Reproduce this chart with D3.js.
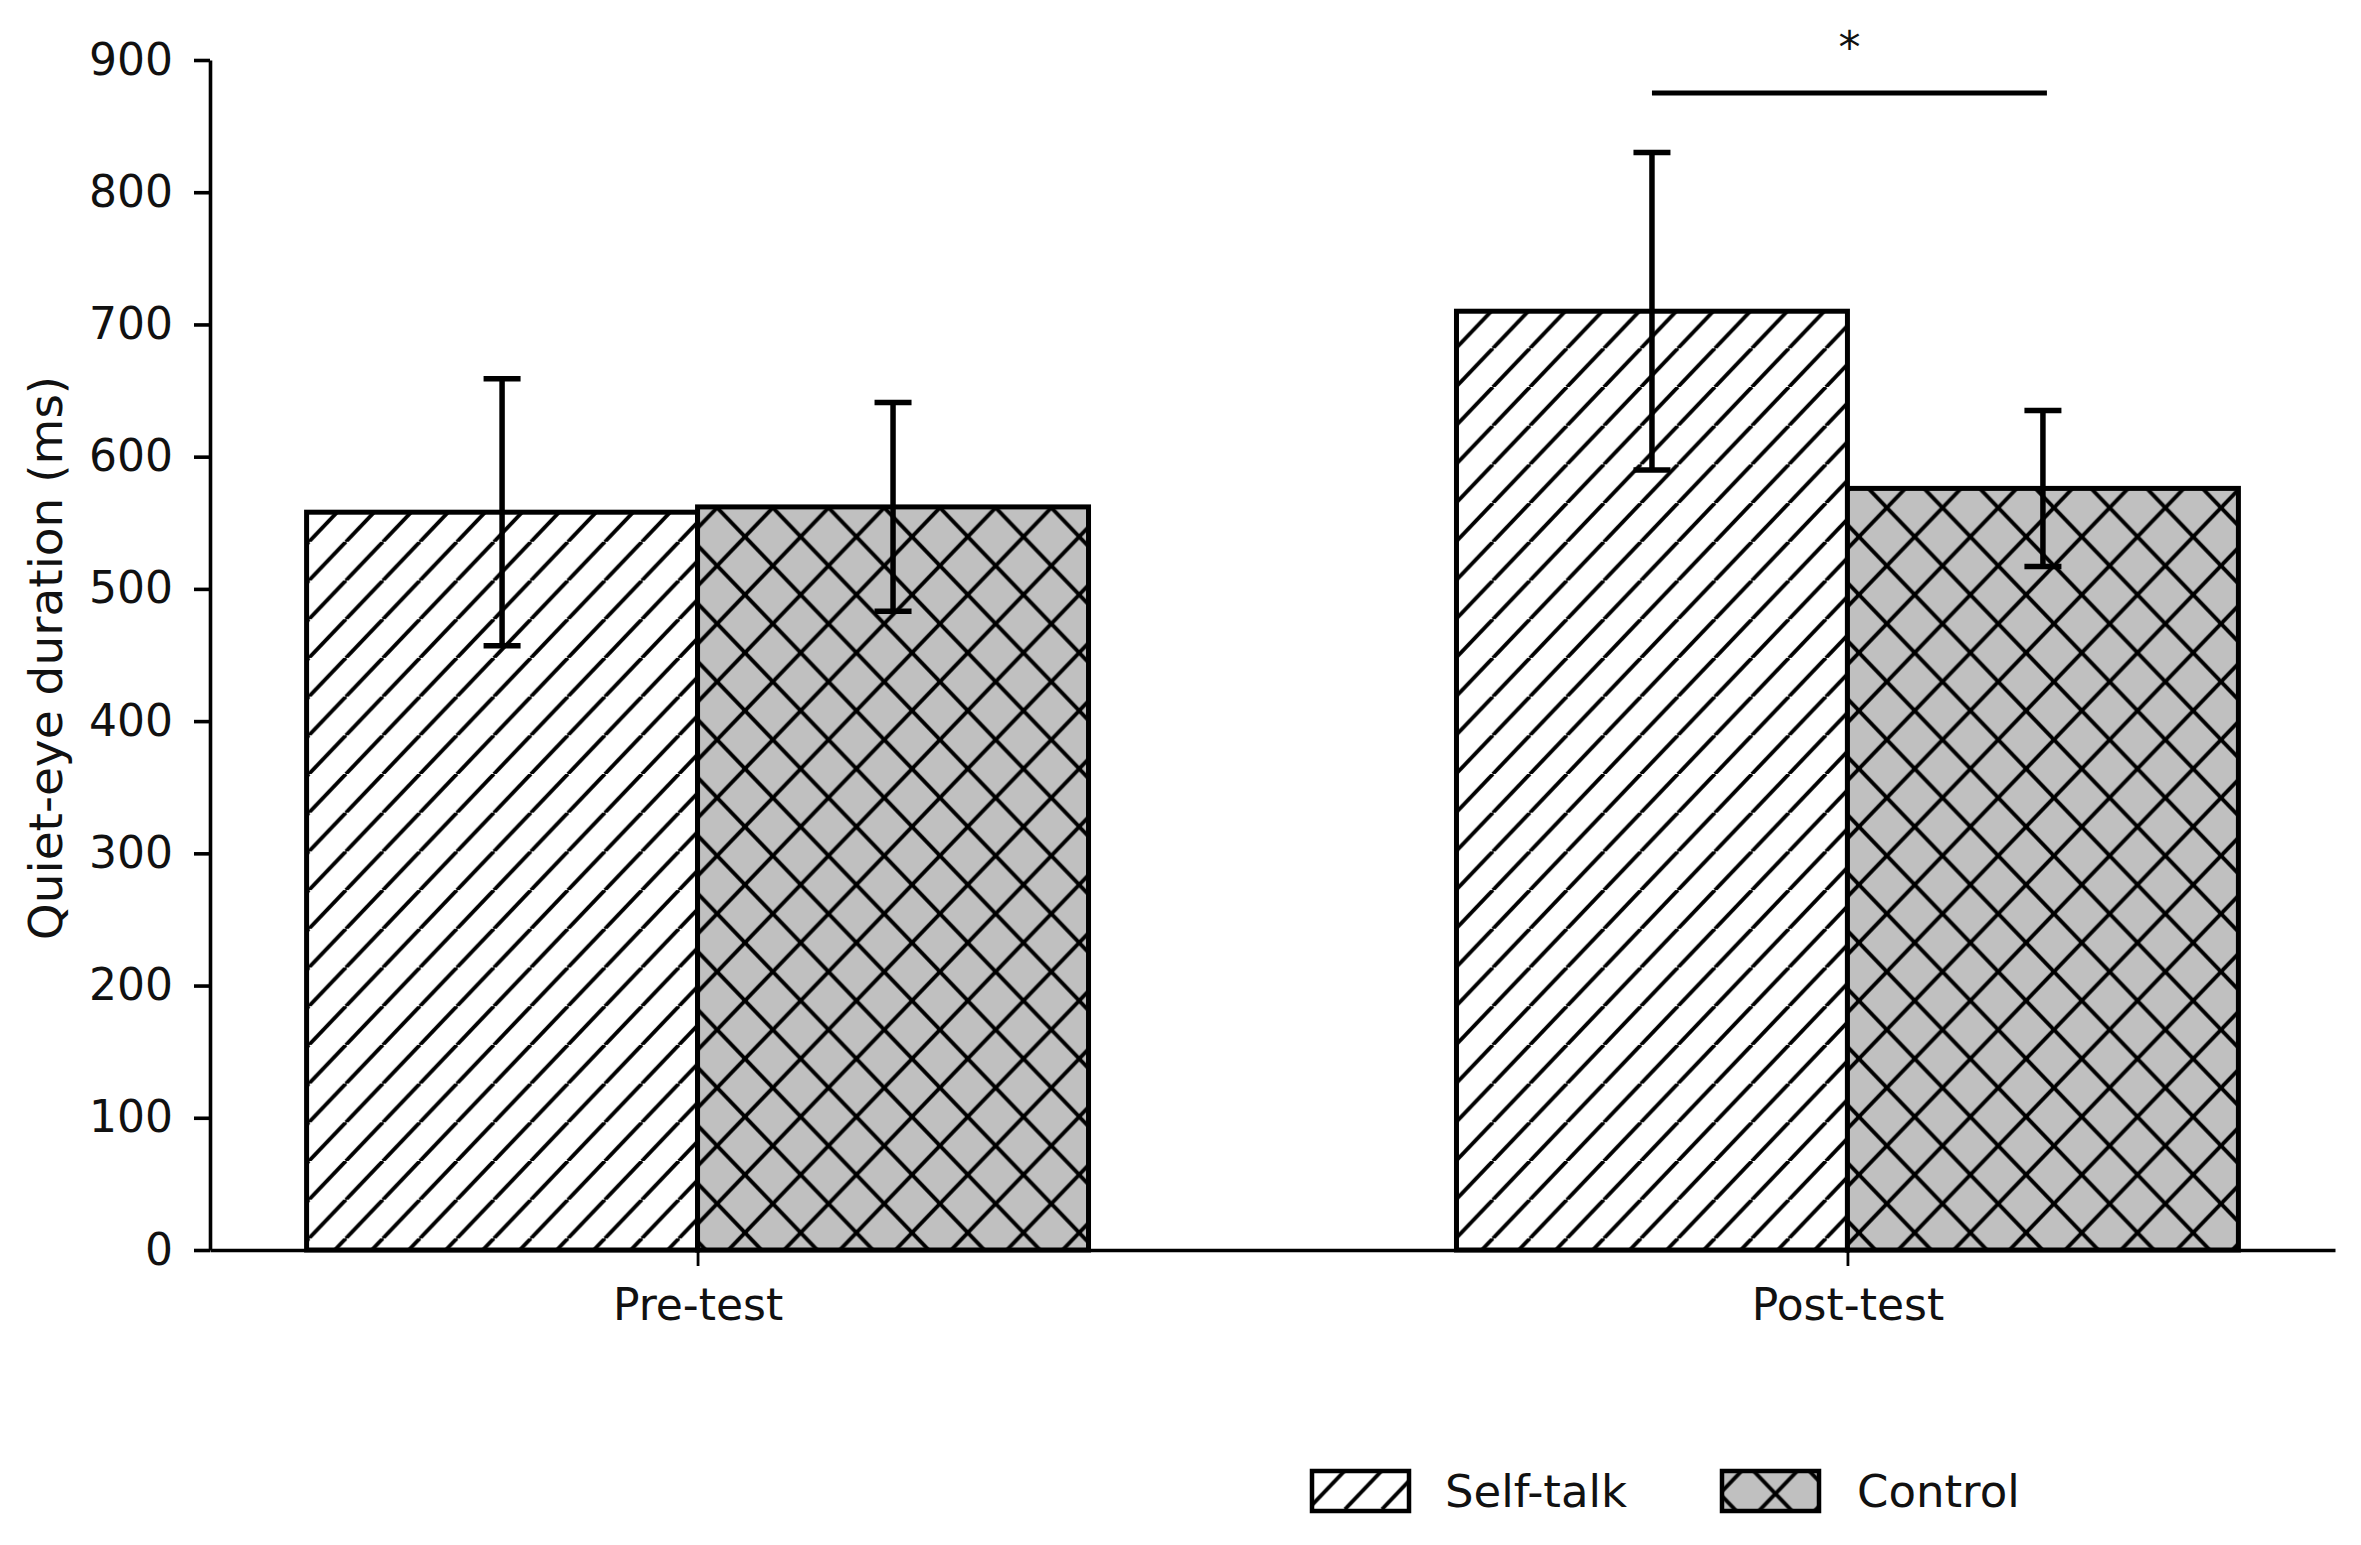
<!DOCTYPE html>
<html>
<head>
<meta charset="utf-8">
<script src="https://cdn.jsdelivr.net/npm/d3@7"></script>
<style>
  html, body { margin: 0; padding: 0; background: #ffffff; }
  svg { display: block; }
  text { font-family: "DejaVu Sans", sans-serif; fill: #111; }
</style>
</head>
<body>
<div id="chart"></div>
<script>
// ---------------- data ----------------
const categories = ["Pre-test", "Post-test"];
const groups = ["Self-talk", "Control"];
const selfTalkMeans = [558, 710];
const selfTalkErrors = [101, 120];
const controlMeans = [562, 576];
const controlErrors = [79, 59];
const yTicks = [0, 100, 200, 300, 400, 500, 600, 700, 800, 900];
const significance = { from: 1, to: 1, value: 875, label: "*" }; // Post-test: Self-talk vs Control
const yLabel = "Quiet-eye duration (ms)";

// ---------------- layout ----------------
const W = 2361, H = 1545;
const plotLeft = 210, plotRight = 2335, plotTop = 60, plotBottom = 1250;
const barW = 0.34;

const svg = d3.select("#chart").append("svg")
  .attr("width", W).attr("height", H)
  .attr("viewBox", `0 0 ${W} ${H}`);
svg.append("rect").attr("width", W).attr("height", H).attr("fill", "#fff");

const x = d3.scaleLinear().domain([-0.424, 1.424]).range([plotLeft, plotRight]);
const y = d3.scaleLinear().domain([0, 900]).range([plotBottom, plotTop]);

// ---------------- hatch patterns ----------------
const defs = svg.append("defs");
function diagPattern(id, w, h, tx, ty, fill, both) {
  const p = defs.append("pattern").attr("id", id)
    .attr("patternUnits", "userSpaceOnUse")
    .attr("width", w).attr("height", h)
    .attr("patternTransform", `translate(${tx},${ty})`);
  p.append("rect").attr("width", w).attr("height", h).attr("fill", fill);
  const segs = [];
  for (const k of [-1, 0, 1]) {
    segs.push([k * w, h, (k + 1) * w, 0]);            // "/"
    if (both) segs.push([k * w, 0, (k + 1) * w, h]);  // "\"
  }
  p.selectAll("line").data(segs).enter().append("line")
    .attr("x1", d => d[0]).attr("y1", d => d[1])
    .attr("x2", d => d[2]).attr("y2", d => d[3])
    .attr("stroke", "#000").attr("stroke-width", 3.9);
}
diagPattern("hatchST", 37, 38.7, 12.9, 0, "#ffffff", false);
diagPattern("hatchCtl", 55.7, 58, 48.75, 43.7, "#c0c0c0", true);
const fills = ["url(#hatchST)", "url(#hatchCtl)"];

// ---------------- bars ----------------
const series = [
  { name: groups[0], means: selfTalkMeans, errs: selfTalkErrors, offset: -barW / 2, fill: fills[0] },
  { name: groups[1], means: controlMeans, errs: controlErrors, offset: barW / 2, fill: fills[1] }
];

series.forEach(s => {
  svg.append("g").selectAll("rect")
    .data(s.means.map((m, i) => ({ i, m })))
    .enter().append("rect")
    .attr("x", d => x(d.i + s.offset - barW / 2))
    .attr("width", x(barW) - x(0))
    .attr("y", d => y(d.m))
    .attr("height", d => y(0) - y(d.m))
    .attr("fill", s.fill)
    .attr("stroke", "#000")
    .attr("stroke-width", 5);
});

// ---------------- error bars ----------------
const capHalf = 18.5;
series.forEach(s => {
  const g = svg.append("g").attr("stroke", "#000").attr("stroke-width", 5.5);
  s.means.forEach((m, i) => {
    const cx = x(i + s.offset);
    const lo = y(m - s.errs[i]), hi = y(m + s.errs[i]);
    g.append("line").attr("x1", cx).attr("x2", cx).attr("y1", lo).attr("y2", hi);
    g.append("line").attr("x1", cx - capHalf).attr("x2", cx + capHalf).attr("y1", lo).attr("y2", lo);
    g.append("line").attr("x1", cx - capHalf).attr("x2", cx + capHalf).attr("y1", hi).attr("y2", hi);
  });
});

// ---------------- significance ----------------
const sx1 = x(significance.from + series[0].offset);
const sx2 = x(significance.to + series[1].offset);
svg.append("line")
  .attr("x1", sx1).attr("x2", sx2 + 4)
  .attr("y1", y(significance.value)).attr("y2", y(significance.value))
  .attr("stroke", "#000").attr("stroke-width", 5);
svg.append("text")
  .attr("x", (sx1 + sx2) / 2 + 2)
  .attr("y", 63)
  .attr("text-anchor", "middle")
  .attr("font-size", 44)
  .text(significance.label);

// ---------------- axes ----------------
const yAxis = d3.axisLeft(y).tickValues(yTicks).tickSize(16).tickSizeOuter(0).tickPadding(21);
const gy = svg.append("g").attr("transform", `translate(${plotLeft},0)`).call(yAxis);
gy.selectAll("text").attr("font-size", 44).attr("font-family", "DejaVu Sans").attr("fill", "#111");
gy.selectAll("line").attr("stroke", "#000").attr("stroke-width", 3.6);
gy.select(".domain").attr("stroke", "#000").attr("stroke-width", 3.6);

const xAxis = d3.axisBottom(x).tickValues([0, 1]).tickFormat(i => categories[i])
  .tickSize(16).tickSizeOuter(0).tickPadding(23);
const gx = svg.append("g").attr("transform", `translate(0,${plotBottom})`).call(xAxis);
gx.selectAll("text").attr("font-size", 44).attr("font-family", "DejaVu Sans").attr("fill", "#111");
gx.selectAll("line").attr("stroke", "#000").attr("stroke-width", 2.8);
gx.select(".domain").attr("stroke", "#000").attr("stroke-width", 3.6);

// y label
svg.append("text")
  .attr("transform", `translate(62,${(plotTop + plotBottom) / 2 + 3}) rotate(-90)`)
  .attr("text-anchor", "middle")
  .attr("font-size", 47)
  .text(yLabel);

// ---------------- legend ----------------
const legendItems = [
  { label: groups[0], fill: fills[0], px: 1312, tx: 1445 },
  { label: groups[1], fill: fills[1], px: 1722, tx: 1857 }
];
const lg = svg.append("g");
legendItems.forEach(it => {
  lg.append("rect").attr("x", it.px).attr("y", 1471).attr("width", 97).attr("height", 40)
    .attr("fill", it.fill).attr("stroke", "#000").attr("stroke-width", 4.5);
  lg.append("text").attr("x", it.tx).attr("y", 1507).attr("font-size", 45).text(it.label);
});
</script>
</body>
</html>
